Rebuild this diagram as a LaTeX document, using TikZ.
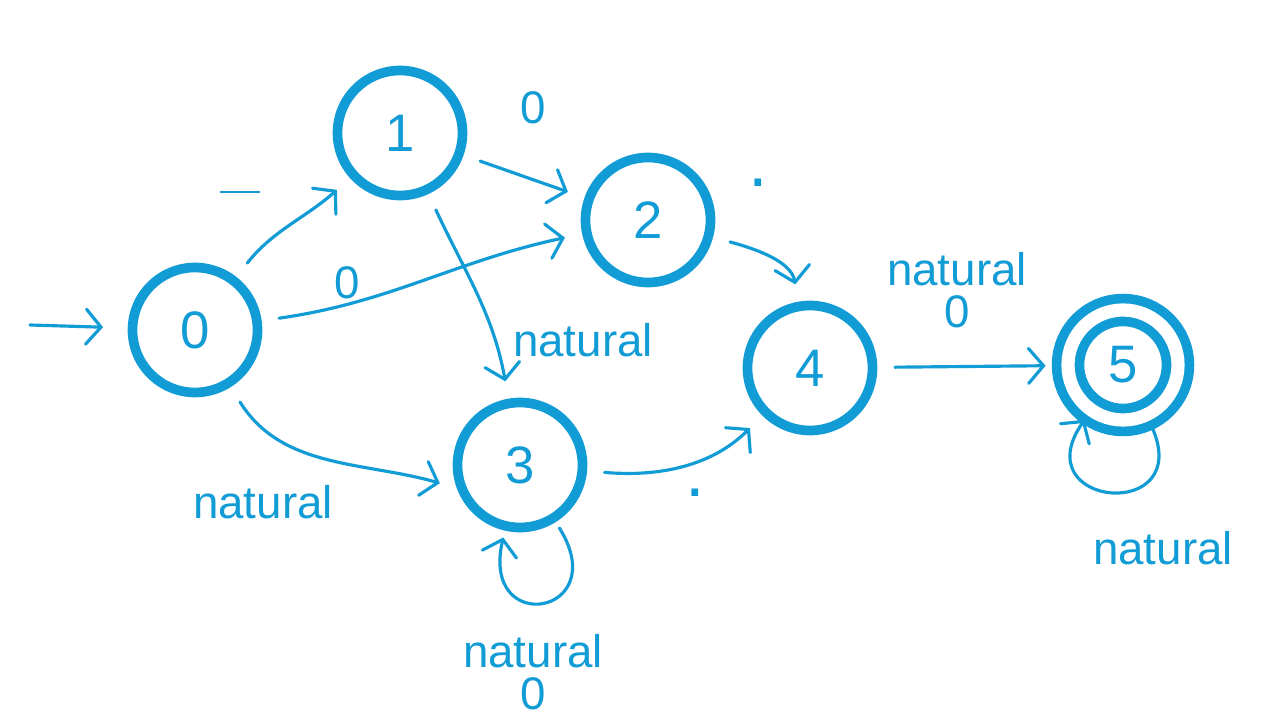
\documentclass[tikz,border=0pt]{standalone}
\usepackage{fontspec}
\setmainfont{Liberation Sans}
\usetikzlibrary{arrows.meta, positioning}
\definecolor{pena}{RGB}{18,156,214}

\begin{document}
\begin{tikzpicture}[
    keadaan/.style={draw=pena, circle, line width=5.5pt, minimum size=2.5cm,
                    text=pena, font=\fontsize{30}{32}\selectfont},
    akhir/.style={keadaan, double=white, double distance=7.5pt, minimum size=2.2cm},
    label/.style={text=pena, font=\fontsize{26}{24}\selectfont, align=center, inner sep=0pt},
    titik/.style={text=pena, font=\fontsize{40}{40}\selectfont, inner sep=0pt},
    panah/.style={draw=pena, line width=1.8pt, line cap=round,
                  -{Straight Barb[length=3mm, width=7mm, line cap=round]},
                  shorten >=10pt, shorten <=10pt}
  ]
    \useasboundingbox (0,0) rectangle (25.6,14.4);
    % keadaan
    \node[keadaan] (s0) at (3.9,7.8)   {0};
    \node[keadaan] (s1) at (8.0,11.74) {1};
    \node[keadaan] (s2) at (12.96,10.0) {2};
    \node[keadaan] (s3) at (10.4,5.1)  {3};
    \node[keadaan] (s4) at (16.2,7.04) {4};
    \node[akhir]   (s5) at (22.46,7.1) {5};
    \coordinate (mulai) at (0.6,7.9);
    % transisi
    \draw[panah, shorten <=0pt, shorten >=14pt] (mulai) -- (s0);
    \draw[panah] (s0) to[out=52, in=222] (s1);
    \draw[panah] (s0) to[out=8, in=192] (s2);
    \draw[panah] (s0) to[out=-58, in=164] (s3.200);
    \draw[panah] (s1) -- (s2);
    \draw[panah] (s1) to[out=-65, in=100] (s3);
    \draw[panah] (s2) to[out=-15, in=100] (s4);
    \draw[panah] (s3) to[out=-5, in=225] (s4);
    \draw[panah] (s4) -- (s5);
    \draw[panah, shorten >=4pt, shorten <=4pt] (s3) to[out=-58, in=-103, distance=2.2cm] (s3);
    \draw[panah, shorten >=4pt, shorten <=4pt] (s5) to[out=-65, in=-125, distance=2.3cm] (s5);
    % label
    \node[label] (l01) at (4.8,10.44)  {\raisebox{0.5ex}{\rule{0.8cm}{1.4pt}}};
    \node[label] (l02) at (6.94,8.74)  {0};
    \node[label] (l12) at (10.66,12.24) {0};
    \node[label] (l13) at (11.66,7.6)  {natural};
    \node[label] (l03) at (5.26,4.36)  {natural};
    \node[titik] (l24) at (15.16,10.75) {.};
    \node[titik] (l34) at (13.9,4.55)  {.};
    \node[label] (l45) at (19.14,8.6)  {natural\\0};
    \node[label] (l33) at (10.66,0.96) {natural\\0};
    \node[label] (l55) at (23.26,3.44) {natural};
  \end{tikzpicture}
\end{document}
